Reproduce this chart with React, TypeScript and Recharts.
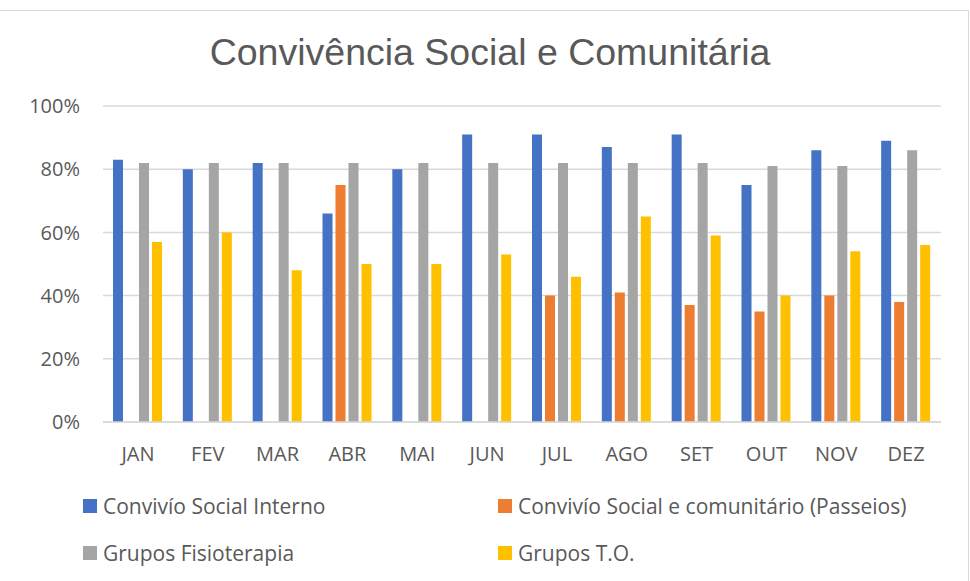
import { BarChart, Bar, XAxis, YAxis, CartesianGrid } from "recharts";

const months = ["JAN", "FEV", "MAR", "ABR", "MAI", "JUN", "JUL", "AGO", "SET", "OUT", "NOV", "DEZ"];
const convivioInterno = [83, 80, 82, 66, 80, 91, 91, 87, 91, 75, 86, 89];
const passeios = [null, null, null, 75, null, null, 40, 41, 37, 35, 40, 38];
const fisioterapia = [82, 82, 82, 82, 82, 82, 82, 82, 82, 81, 81, 86];
const gruposTO = [57, 60, 48, 50, 50, 53, 46, 65, 59, 40, 54, 56];
const yTicks = [0, 20, 40, 60, 80, 100];

const series = [
  { key: "interno", name: "Convivío Social Interno", color: "#4472C4" },
  { key: "passeios", name: "Convivío Social e comunitário (Passeios)", color: "#ED7D31" },
  { key: "fisio", name: "Grupos Fisioterapia", color: "#A5A5A5" },
  { key: "to", name: "Grupos T.O.", color: "#FFC000" },
];

const data = months.map((m, i) => ({
  month: m,
  interno: convivioInterno[i],
  passeios: passeios[i],
  fisio: fisioterapia[i],
  to: gruposTO[i],
}));

const textColor = "#595959";
const xTickFont = { fill: textColor, fontSize: 20, fontFamily: "'Open Sans', sans-serif" };
const yTickFont = { fill: textColor, fontSize: 20, fontFamily: "'Open Sans', sans-serif" };

export default function App() {
  return (
    <div style={{ position: "relative", width: 970, height: 581, background: "#fff", overflow: "hidden" }}>
      <style>{`body{margin:0}`}</style>
      {/* chart frame */}
      <div
        style={{
          position: "absolute",
          left: -1,
          top: 10,
          width: 970,
          height: 600,
          border: "1px solid #d9d9d9",
          boxSizing: "border-box",
        }}
      />
      <div
        style={{
          position: "absolute",
          left: 0,
          width: 980,
          top: 30,
          textAlign: "center",
          fontFamily: "'Liberation Sans', Arial, sans-serif",
          fontSize: 37.5,
          color: textColor,
          lineHeight: "44px",
        }}
      >
        Convivência Social e Comunitária
      </div>

      <div style={{ position: "absolute", left: 0, top: 0 }}>
        <BarChart
          width={970}
          height={581}
          data={data}
          margin={{ top: 106, right: 29, left: 0, bottom: 119 }}
          barGap={3}
        >
          <CartesianGrid vertical={false} stroke="#d9d9d9" strokeWidth={1.5} />
          <XAxis
            dataKey="month"
            height={40}
            tickLine={false}
            axisLine={{ stroke: "#d9d9d9", strokeWidth: 1.5 }}
            tick={xTickFont}
            tickMargin={19}
          />
          <YAxis
            width={103}
            domain={[0, 100]}
            ticks={yTicks}
            tickFormatter={(v) => `${v}%`}
            axisLine={false}
            tickLine={false}
            tick={yTickFont}
            tickMargin={17}
          />
          {series.map((s) => (
            <Bar
              key={s.key}
              dataKey={s.key}
              name={s.name}
              fill={s.color}
              barSize={10}
              isAnimationActive={false}
            />
          ))}
        </BarChart>
      </div>

      {series.map((s, i) => {
        const col = i % 2;
        const row = Math.floor(i / 2);
        const left = col === 0 ? 83 : 498;
        const cy = row === 0 ? 506 : 552.5;
        return (
          <div
            key={s.key}
            style={{
              position: "absolute",
              left,
              top: cy - 14,
              height: 28,
              display: "flex",
              alignItems: "center",
              fontFamily: "'Open Sans', sans-serif",
              fontSize: 21,
              color: textColor,
              whiteSpace: "nowrap",
            }}
          >
            <span style={{ display: "inline-block", width: 14, height: 14, background: s.color, marginRight: 6 }} />
            {s.name}
          </div>
        );
      })}
    </div>
  );
}
